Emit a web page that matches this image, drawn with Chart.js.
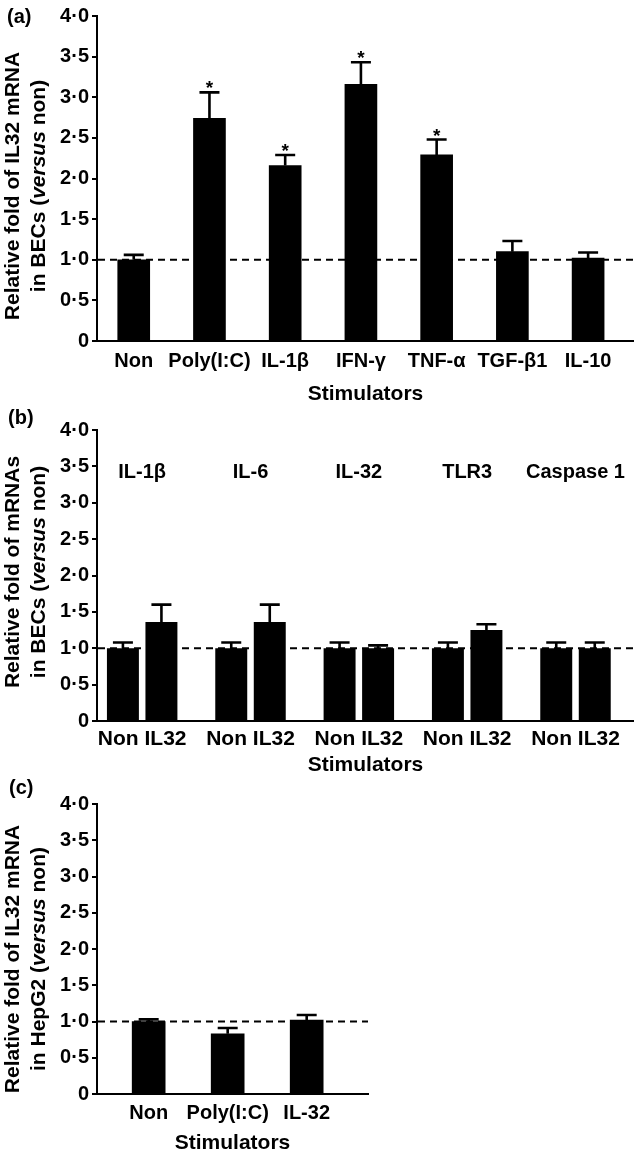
<!DOCTYPE html>
<html>
<head>
<meta charset="utf-8">
<script src="https://cdn.jsdelivr.net/npm/chart.js@4/dist/chart.umd.min.js"></script>
<style>
  html, body { margin:0; padding:0; background:#fff; }
  body { width:634px; height:1156px; position:relative; overflow:hidden;
         font-family:"Liberation Sans", Arial, Helvetica, sans-serif; color:#000; }
  .panel { position:absolute; left:0; width:634px; }
  .panel canvas { display:block; }
  .plabel { position:absolute; font-size:20px; line-height:24px; font-weight:bold; z-index:2; }
  .ytitle { position:absolute; width:340px; height:52px; font-size:21px; line-height:26px; font-weight:bold;
            text-align:center; white-space:nowrap; transform:rotate(-90deg); z-index:2; }
</style>
</head>
<body>
<div class="plabel" style="left:7px;top:4px;">(a)</div>
<div class="plabel" style="left:8px;top:405px;">(b)</div>
<div class="plabel" style="left:9px;top:775px;">(c)</div>

<div class="ytitle" style="left:-145px;top:160px;">Relative fold of IL32 mRNA<br>in BECs (<i>versus</i> non)</div>
<div class="ytitle" style="left:-145px;top:546px;">Relative fold of mRNAs<br>in BECs (<i>versus</i> non)</div>
<div class="ytitle" style="left:-145px;top:933px;">Relative fold of IL32 mRNA<br>in HepG2 (<i>versus</i> non)</div>

<div class="panel" style="top:0;height:410px;"><canvas id="chartA" width="634" height="410"></canvas></div>
<div class="panel" style="top:410px;height:370px;"><canvas id="chartB" width="634" height="370"></canvas></div>
<div class="panel" style="top:780px;height:376px;"><canvas id="chartC" width="634" height="376"></canvas></div>

<script>
// ---------------- DATA ----------------
// Panel (a): IL32 mRNA in BECs
const stimulatorsA = ['Non', 'Poly(I:C)', 'IL-1\u03B2', 'IFN-\u03B3', 'TNF-\u03B1', 'TGF-\u03B21', 'IL-10'];
const meanA        = [1.00, 2.74, 2.16, 3.16, 2.29, 1.10, 1.02];
const errorA       = [0.06, 0.32, 0.13, 0.27, 0.19, 0.13, 0.07];
const significantA = [false, true, true, true, true, false, false];

// Panel (b): mRNAs in BECs, Non vs IL32 per gene
const genesB        = ['IL-1\u03B2', 'IL-6', 'IL-32', 'TLR3', 'Caspase 1'];
const groupLabelsB  = ['Non IL32', 'Non IL32', 'Non IL32', 'Non IL32', 'Non IL32'];
const nonMeanB      = [1.00, 1.00, 1.00, 1.00, 1.00];
const nonErrorB     = [0.08, 0.08, 0.08, 0.08, 0.08];
const il32MeanB     = [1.36, 1.36, 1.00, 1.25, 1.00];
const il32ErrorB    = [0.24, 0.24, 0.04, 0.08, 0.08];
const geneLabelLevelB = 3.42;

// Panel (c): IL32 mRNA in HepG2
const stimulatorsC = ['Non', 'Poly(I:C)', 'IL-32'];
const meanC        = [1.00, 0.83, 1.02];
const errorC       = [0.03, 0.08, 0.07];

// Axis
const yMin = 0, yMax = 4, yStep = 0.5;
const referenceValue = 1;

// ---------------- SETUP ----------------
const FONT = "'Liberation Sans', Arial, Helvetica, sans-serif";
Chart.defaults.font.family = FONT;
Chart.defaults.font.weight = 'bold';
Chart.defaults.color = '#000';

function fmtY(v) { return v === 0 ? '0' : v.toFixed(1).replace('.', '\u00B7'); }

function makeY() {
  return {
    type: 'linear', min: yMin, max: yMax,
    ticks: { stepSize: yStep, callback: v => fmtY(v), font: { size: 20, weight: 'bold' }, padding: 3, color: '#000' },
    grid: { display: true, drawOnChartArea: false, drawTicks: true, tickLength: 5, color: '#000', lineWidth: 2 },
    border: { display: true, color: '#000', width: 2 },
    afterFit: s => { s.width = 97; }
  };
}

function makeX(labels, min, max, height, tickPad, titlePadBottom, fontSize) {
  return {
    type: 'linear', min: min, max: max, offset: false,
    afterBuildTicks: s => { s.ticks = labels.map((_, i) => ({ value: i })); },
    ticks: { autoSkip: false, maxRotation: 0, minRotation: 0, padding: tickPad,
             font: { size: fontSize, weight: 'bold' }, color: '#000',
             callback: v => (labels[v] !== undefined ? labels[v] : '') },
    grid: { display: false, drawTicks: false },
    border: { display: true, color: '#000', width: 2 },
    title: { display: true, text: 'Stimulators', font: { size: 21, weight: 'bold' }, color: '#000',
             padding: { top: 0, bottom: titlePadBottom } },
    afterFit: s => { s.height = height; }
  };
}

function toPoints(values) { return values.map((v, i) => ({ x: i, y: v })); }

// dashed reference line
const refLinePlugin = {
  id: 'refLine',
  beforeDatasetsDraw(chart, args, opts) {
    const { ctx, chartArea } = chart;
    const y = chart.scales.y.getPixelForValue(opts.value);
    ctx.save();
    ctx.strokeStyle = '#000';
    ctx.lineWidth = 2;
    ctx.setLineDash([7, 5]);
    ctx.beginPath();
    ctx.moveTo(chartArea.left + 1, y);
    ctx.lineTo(chartArea.right, y);
    ctx.stroke();
    ctx.restore();
  }
};

// error bars + significance stars
const errorBarPlugin = {
  id: 'errorBars',
  afterDatasetsDraw(chart) {
    const ctx = chart.ctx;
    const ys = chart.scales.y;
    chart.data.datasets.forEach((ds, di) => {
      const meta = chart.getDatasetMeta(di);
      meta.data.forEach((bar, i) => {
        const err = ds.errors ? ds.errors[i] : null;
        if (err == null) return;
        const v = ds.data[i].y;
        const yTop = ys.getPixelForValue(v);
        const yErr = ys.getPixelForValue(v + err);
        const half = 10;
        ctx.save();
        ctx.strokeStyle = '#000';
        ctx.lineWidth = 2.6;
        ctx.beginPath();
        ctx.moveTo(bar.x, yTop);
        ctx.lineTo(bar.x, yErr);
        ctx.moveTo(bar.x - half, yErr);
        ctx.lineTo(bar.x + half, yErr);
        ctx.stroke();
        if (ds.significant && ds.significant[i]) {
          ctx.fillStyle = '#000';
          ctx.font = 'bold 19px ' + FONT;
          ctx.textAlign = 'center';
          ctx.textBaseline = 'alphabetic';
          ctx.fillText('*', bar.x, yErr + 2);
        }
        ctx.restore();
      });
    });
  }
};

// gene labels above groups in (b)
const geneLabelPlugin = {
  id: 'geneLabels',
  afterDatasetsDraw(chart, args, opts) {
    if (!opts.labels) return;
    const ctx = chart.ctx;
    const xs = chart.scales.x, ys = chart.scales.y;
    ctx.save();
    ctx.fillStyle = '#000';
    ctx.font = 'bold 20px ' + FONT;
    ctx.textAlign = 'center';
    ctx.textBaseline = 'middle';
    opts.labels.forEach((t, i) => {
      ctx.fillText(t, xs.getPixelForValue(i), ys.getPixelForValue(opts.level));
    });
    ctx.restore();
  }
};

function baseOptions(padTop, padRight, xScale, extraPlugins) {
  return {
    responsive: false,
    animation: false,
    devicePixelRatio: 1,
    layout: { padding: { top: padTop, right: padRight, bottom: 0, left: 0 } },
    scales: { x: xScale, y: makeY() },
    plugins: Object.assign({
      legend: { display: false },
      tooltip: { enabled: false },
      refLine: { value: referenceValue }
    }, extraPlugins || {})
  };
}

// ---------------- PANEL A ----------------
new Chart(document.getElementById('chartA'), {
  type: 'bar',
  data: {
    datasets: [{
      data: toPoints(meanA), errors: errorA, significant: significantA,
      backgroundColor: '#000', borderWidth: 0, barThickness: 32
    }]
  },
  options: baseOptions(16, 0, makeX(stimulatorsA, -0.485, 6.606, 69, 8, 3, 20)),
  plugins: [refLinePlugin, errorBarPlugin]
});

// ---------------- PANEL B ----------------
new Chart(document.getElementById('chartB'), {
  type: 'bar',
  data: {
    datasets: [
      { label: 'Non', data: toPoints(nonMeanB), errors: nonErrorB,
        backgroundColor: '#000', borderWidth: 0, categoryPercentage: 0.711, barPercentage: 0.83 },
      { label: 'IL32', data: toPoints(il32MeanB), errors: il32ErrorB,
        backgroundColor: '#000', borderWidth: 0, categoryPercentage: 0.711, barPercentage: 0.83 }
    ]
  },
  options: baseOptions(20, 0, makeX(groupLabelsB, -0.417, 4.54, 59, 5.5, 2, 21),
                       { geneLabels: { labels: genesB, level: geneLabelLevelB } }),
  plugins: [refLinePlugin, errorBarPlugin, geneLabelPlugin]
});

// ---------------- PANEL C ----------------
new Chart(document.getElementById('chartC'), {
  type: 'bar',
  data: {
    datasets: [{
      data: toPoints(meanC), errors: errorC,
      backgroundColor: '#000', borderWidth: 0, barThickness: 33
    }]
  },
  options: baseOptions(24, 266, makeX(stimulatorsC, -0.654, 2.776, 62, 7, 0, 20)),
  plugins: [refLinePlugin, errorBarPlugin]
});
</script>
</body>
</html>
